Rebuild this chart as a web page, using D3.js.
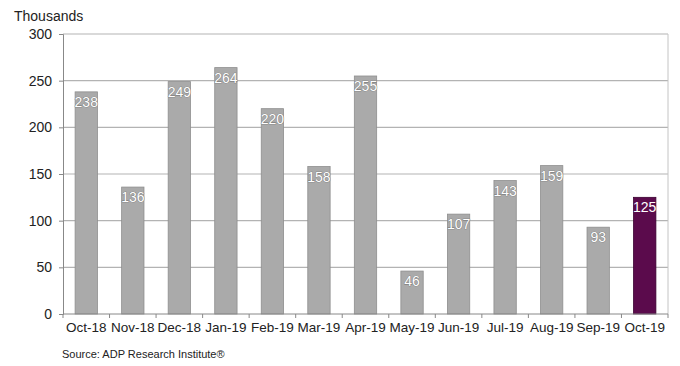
<!DOCTYPE html>
<html>
<head>
<meta charset="utf-8">
<script src="https://cdn.jsdelivr.net/npm/d3@7"></script>
<style>
  body { margin: 0; background: #fff; }
  text { font-family: "Liberation Sans", Arial, sans-serif; }
</style>
</head>
<body>
<div id="chart"></div>
<script>
var months = ["Oct-18", "Nov-18", "Dec-18", "Jan-19", "Feb-19", "Mar-19", "Apr-19",
              "May-19", "Jun-19", "Jul-19", "Aug-19", "Sep-19", "Oct-19"];
var jobs = [238, 136, 249, 264, 220, 158, 255, 46, 107, 143, 159, 93, 125];
var yTicks = [0, 50, 100, 150, 200, 250, 300];

var margin = { top: 34, left: 63, right: 12, bottom: 52 },
    width = 680 - margin.left - margin.right,
    height = 366 - margin.top - margin.bottom;

var svg = d3.select("#chart")
  .append("svg")
  .attr("width", 680)
  .attr("height", 366)
  .append("g")
  .attr("transform", "translate(" + margin.left + "," + margin.top + ")");

var x = d3.scaleBand().domain(months).range([0, width]).paddingInner(0.52).paddingOuter(0.26);
var xEdge = d3.scaleLinear().domain([0, months.length]).range([0, width]);
var y = d3.scaleLinear().domain([0, 300]).range([height, 0]);

// gridlines
svg.selectAll(".grid")
  .data(yTicks.slice(1))
  .enter().append("line")
  .attr("x1", 0).attr("x2", width)
  .attr("y1", function(d) { return y(d) }).attr("y2", function(d) { return y(d) })
  .attr("stroke", "#b3b3b3").attr("stroke-width", 1.2);

// right border
svg.append("line")
  .attr("x1", width).attr("x2", width).attr("y1", 0).attr("y2", height)
  .attr("stroke", "#c4c4c4");

// bars
svg.selectAll(".bar")
  .data(jobs)
  .enter().append("rect")
  .attr("x", function(d, i) { return x(months[i]) })
  .attr("y", function(d) { return y(d) })
  .attr("width", x.bandwidth())
  .attr("height", function(d) { return height - y(d) })
  .attr("fill", function(d, i) { return i == jobs.length - 1 ? "#5b0b4c" : "#aaaaaa" })
  .attr("stroke", function(d, i) { return i == jobs.length - 1 ? "#3a0030" : "#8e8e8e" })
  .attr("stroke-width", 0.8);

// value labels
svg.selectAll(".val")
  .data(jobs)
  .enter().append("text")
  .attr("x", function(d, i) { return x(months[i]) + x.bandwidth() / 2 })
  .attr("y", function(d) { return y(d) + 15 })
  .attr("text-anchor", "middle")
  .attr("font-size", "14px")
  .attr("fill", "#fff")
  .attr("stroke", function(d, i) { return i == jobs.length - 1 ? "none" : "#707070" })
  .attr("stroke-width", 0.7)
  .attr("paint-order", "stroke")
  .text(function(d) { return d });

// y axis
var yAxis = d3.axisLeft(y).tickValues(yTicks).tickSize(4).tickPadding(7);
var yg = svg.append("g").attr("class", "axis y-axis").call(yAxis);
yg.select(".domain").attr("stroke", "#888");
yg.selectAll(".tick line").attr("stroke", "#888");
yg.selectAll("text").attr("font-size", "14px").attr("fill", "#222")
  .style("font-family", "Liberation Sans, Arial, sans-serif");

// x axis
svg.append("line")
  .attr("x1", 0).attr("x2", width).attr("y1", height).attr("y2", height)
  .attr("stroke", "#888");
svg.selectAll(".xtick")
  .data(d3.range(months.length + 1))
  .enter().append("line")
  .attr("x1", function(d) { return xEdge(d) }).attr("x2", function(d) { return xEdge(d) })
  .attr("y1", height).attr("y2", height + 4)
  .attr("stroke", "#888");
svg.selectAll(".xlab")
  .data(months)
  .enter().append("text")
  .attr("x", function(d) { return x(d) + x.bandwidth() / 2 })
  .attr("y", height + 18)
  .attr("text-anchor", "middle")
  .attr("font-size", "13.5px")
  .attr("fill", "#222")
  .text(function(d) { return d });

d3.select("svg").append("text")
  .attr("x", 14).attr("y", 21)
  .attr("font-size", "14px").attr("fill", "#222")
  .text("Thousands");

d3.select("svg").append("text")
  .attr("x", 62).attr("y", 358)
  .attr("font-size", "11px").attr("fill", "#222")
  .text("Source: ADP Research Institute\u00AE");
</script>
</body>
</html>
